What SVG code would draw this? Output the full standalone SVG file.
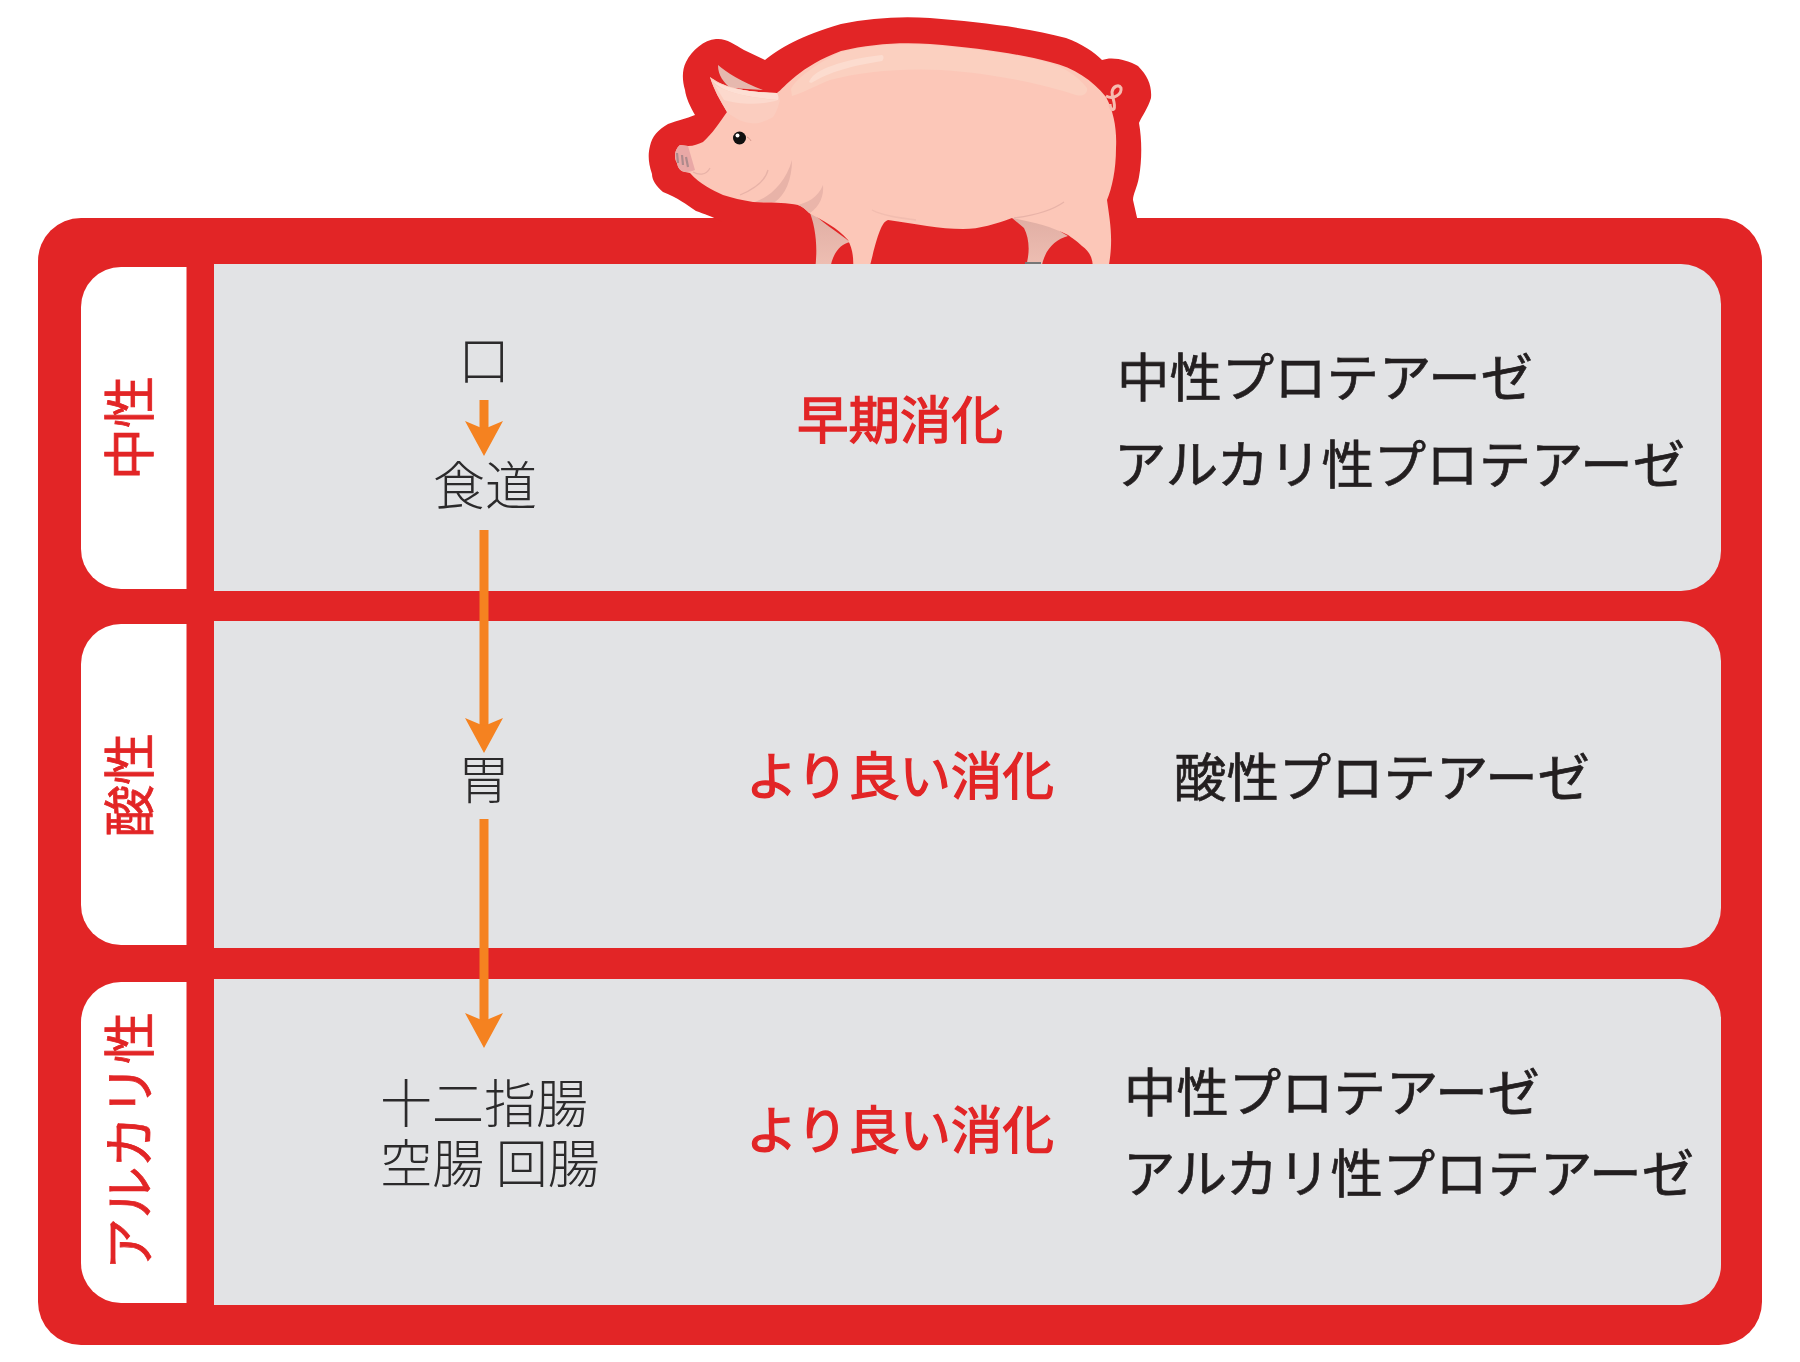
<svg xmlns="http://www.w3.org/2000/svg" width="1800" height="1362" viewBox="0 0 1800 1362">
  <style>
    .red { fill: #e22526; }
    .panel { fill: #e2e3e5; }
    .tab { fill: #ffffff; }
    text { font-family: "Noto Sans CJK JP", "Noto Sans CJK SC", sans-serif; font-weight: 400; }
    .organ { font-size: 52px; font-weight: 300; fill: #2b2a2b; text-anchor: middle; }
    .effect { font-size: 51.500px; fill: #e22526; stroke: #e22526; stroke-width: 1.400px; text-anchor: middle; }
    .enzyme { font-size: 52.400px; fill: #231f20; stroke: #231f20; stroke-width: 0.700px; }
    .ph { font-size: 52px; fill: #e22526; stroke: #e22526; stroke-width: 0.800px; text-anchor: middle; }
    .flow { stroke: #f58220; stroke-width: 9; fill: none; marker-end: url(#head); }
    .crease { fill: none; stroke: #e8b3a8; stroke-width: 1.300; }
  </style>
  <defs>
    <marker id="head" markerUnits="userSpaceOnUse" markerWidth="38" markerHeight="40" viewBox="0 0 38 40" refX="8" refY="20" orient="auto">
      <path d="M0 1 L8 20 L0 39 L35 20 Z" fill="#f58220"/>
    </marker>
    <linearGradient id="legShade" x1="0" y1="0" x2="0" y2="1">
      <stop offset="0" stop-color="#dfaca2"/>
      <stop offset="1" stop-color="#efc0b4"/>
    </linearGradient>
  </defs>

  <rect width="1800" height="1362" fill="#ffffff"/>

  <g id="frame">
    <rect class="red" x="38" y="218" width="1724" height="1127" rx="43" ry="43"/>
    <path class="red" d="M722 222 C712 216 704 214 696 211 C686 204 678 198 663 192 C656 186 652 180 652 174 C648 162 648 154 650 146 C652 136 658 130 668 124 C678 120 686 119 695 115 C690 106 686 98 685 90 C682 80 682 70 686 62 C692 50 704 40 716 39 C726 38 734 44 744 50 L765 60 C780 48 800 36 841 24 C870 18 900 16 930 18 C980 22 1030 28 1066 38 C1082 44 1094 52 1102 60 C1112 56 1128 60 1138 66 C1148 76 1152 86 1151 98 C1148 108 1142 116 1139 123 C1142 140 1142 160 1139 177 C1137 188 1133 194 1133 200 L1138 222 Z"/>
  </g>

  <g id="pig">
    <!-- far ear -->
    <path d="M718 65 C726 72 742 82 763 90 L730 88 C724 82 718 76 718 65 Z" fill="#e6b8ae"/>
    <!-- far legs -->
    <path d="M808 208 C820 222 838 232 850 242 C840 244 832 254 830 270 L815 270 C818 248 816 226 808 208 Z" fill="url(#legShade)"/>
    <path d="M1012 218 L1040 212 C1050 224 1060 232 1068 236 C1054 240 1044 250 1041 270 L1025 270 C1030 254 1030 240 1024 228 Z" fill="url(#legShade)"/>
    <!-- body -->
    <path d="M710 77 C722 86 740 92 777 93 C784 88 800 66 841 51 C870 44 900 42 930 44 C980 48 1020 54 1050 62 C1075 68 1092 80 1106 97 C1114 112 1117 130 1116 148 C1116 170 1112 188 1107 200 C1110 222 1114 240 1108 270 L1093 270 C1093 258 1090 252 1082 246 C1076 240 1072 238 1068 235 C1050 226 1032 222 1012 218 C996 224 980 229 963 229 C940 229 915 224 888 220 C882 222 878 232 869 270 L853 270 C854 256 852 248 848 240 C838 228 822 220 809 213 C804 208 802 206 798 205 C785 202 770 203 753 202 C742 200 732 198 723 195 C712 190 700 184 690 173 L685 172 C680 171 678 168 677 163 C674 158 674 150 680 145 L688 146 C694 146 698 144 703 142 C712 134 720 122 727 112 C720 100 714 90 710 77 Z" fill="#fcc7b8"/>
    <!-- back highlight -->
    <path d="M791 89 C795 80 815 64 841 52 C870 45 900 43 930 45 C980 49 1020 55 1050 63 C1062 67 1076 74 1087 88 C1088 94 1082 97 1076 95 C1050 86 1000 74 941 70 C900 68 860 72 830 80 C815 86 800 94 792 96 Z" fill="#fbd0c0"/>
    <path d="M810 80 C815 70 840 60 882 55 C884 56 884 59 882 61 C850 66 830 72 813 82 C810 84 808 82 810 80 Z" fill="#fcdccf"/>
    <!-- near ear -->
    <path d="M710 77 C722 86 740 92 777 93 L780 100 C778 108 776 113 773 117 C765 122 757 124 750 123 C742 122 734 118 727 112 C720 100 714 90 710 77 Z" fill="#fbcdbf"/>
    <path d="M712 80 C720 90 735 96 778 100 C779 97 778 95 777 93 C745 92 725 88 712 80 Z" fill="#fddfd4"/>
    <path d="M714 84 C724 92 750 98 778 100 C760 106 738 104 724 100 Z" fill="#fcd9cd"/>
    <!-- snout -->
    <path d="M680 145 L688 146 L695 170 C690 172 687 172 685 172 C680 171 678 168 677 163 C674 158 674 150 680 145 Z" fill="#e9a8a6"/>
    <path d="M677 153 L678 163 M682 155 L683 165 M686 157 L688 167" stroke="#ae8a8c" stroke-width="2.200" fill="none"/>
    <path class="crease" d="M693 172 C698 175 706 176 710 168"/>
    <!-- chin and shoulder folds -->
    <path d="M792 160 C792 180 785 195 775 202 L755 202 C770 197 786 182 792 160 Z" fill="#e8b3a8"/>
    <path d="M823 185 C818 198 806 203 798 205 C804 208 806 210 810 213 C820 206 824 196 823 185 Z" fill="#eab5aa"/>
    <path class="crease" d="M768 170 C765 182 752 190 740 195"/>
    <path class="crease" d="M1064 202 C1050 212 1030 216 1014 218"/>
    <path class="crease" d="M872 210 C884 216 900 218 916 220" stroke-opacity="0.500"/>
    <!-- eye -->
    <circle cx="739.500" cy="138" r="6.500" fill="#101010"/>
    <circle cx="737.500" cy="135.500" r="2" fill="#ffffff"/>
    <path d="M747 137 C749 138 750 139 751 141" stroke="#d89c90" stroke-width="1" fill="none"/>
    <!-- tail -->
    <path d="M1106 96 C1114 100 1122 94 1121 88 C1119 84 1113 86 1112 92 C1112 98 1116 104 1114 109 C1112 111 1110 108 1110 104" stroke="#f6bcb0" stroke-width="3" fill="none"/>
    <!-- hoof shadow -->
    <path d="M1025 263 L1041 263" stroke="#777777" stroke-width="2"/>
  </g>

  <g id="row-neutral">
    <path class="panel" d="M214 264 H1681 A40 40 0 0 1 1721 304 V551 A40 40 0 0 1 1681 591 H214 Z"/>
    <path class="tab" d="M186.500 267 V589 H121 A40 40 0 0 1 81 549 V307 A40 40 0 0 1 121 267 Z"/>
    <text class="ph" transform="translate(149 428) rotate(-90)">中性</text>
    <text class="organ" x="484" y="380">口</text>
    <text class="organ" x="485" y="505">食道</text>
    <text class="effect" x="900" y="439">早期消化</text>
    <text class="enzyme" x="1117" y="397">中性プロテアーゼ</text>
    <text class="enzyme" x="1114" y="484">アルカリ性プロテアーゼ</text>
  </g>

  <g id="row-acid">
    <path class="panel" d="M214 621 H1681 A40 40 0 0 1 1721 661 V908 A40 40 0 0 1 1681 948 H214 Z"/>
    <path class="tab" d="M186.500 624 V945 H121 A40 40 0 0 1 81 905 V664 A40 40 0 0 1 121 624 Z"/>
    <text class="ph" transform="translate(149 785) rotate(-90)">酸性</text>
    <text class="organ" x="484" y="799">胃</text>
    <text class="effect" x="900" y="795">より良い消化</text>
    <text class="enzyme" x="1174" y="797">酸性プロテアーゼ</text>
  </g>

  <g id="row-alkaline">
    <path class="panel" d="M214 979 H1681 A40 40 0 0 1 1721 1019 V1265 A40 40 0 0 1 1681 1305 H214 Z"/>
    <path class="tab" d="M186.500 982 V1303 H121 A40 40 0 0 1 81 1263 V1022 A40 40 0 0 1 121 982 Z"/>
    <text class="ph" transform="translate(149 1141) rotate(-90)">アルカリ性</text>
    <text class="organ" x="484" y="1123">十二指腸</text>
    <text class="organ" x="490" y="1183">空腸 回腸</text>
    <text class="effect" x="900" y="1149">より良い消化</text>
    <text class="enzyme" x="1124" y="1112">中性プロテアーゼ</text>
    <text class="enzyme" x="1123" y="1193">アルカリ性プロテアーゼ</text>
  </g>

  <g id="connectors">
    <line class="flow" x1="484" y1="400" x2="484" y2="429"/>
    <line class="flow" x1="484" y1="530" x2="484" y2="726"/>
    <line class="flow" x1="484" y1="819" x2="484" y2="1021"/>
  </g>
</svg>
